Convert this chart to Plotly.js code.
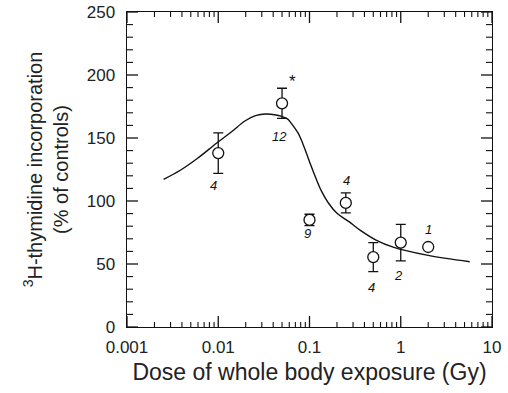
<!DOCTYPE html>
<html>
<head>
<meta charset="utf-8">
<script src="https://cdn.plot.ly/plotly-3.0.1.min.js"></script>
<style>html,body{margin:0;padding:0;background:#fff;}#chart{width:508px;height:393px;}</style>
</head>
<body>
<div id="chart"></div>
<script>
// Measured points (dose in Gy, % of controls)
var doses = [0.01, 0.05, 0.1, 0.25, 0.5, 1, 2];
var means = [138, 177.5, 85, 98.5, 55.5, 67, 63.5];
var errors = [16, 12, 4.5, 8, 11.5, 14.5, 0];

// Fitted curve
var curveX = [0.00252, 0.00388, 0.00594, 0.00955, 0.0140, 0.0198, 0.0256, 0.0331, 0.0428, 0.0487, 0.0578, 0.0629, 0.0748, 0.0814, 0.0926, 0.1052, 0.1197, 0.1362, 0.1618, 0.2002, 0.2704, 0.3646, 0.536, 0.826, 1.94, 5.7];
var curveY = [117.2, 124.6, 133.9, 145.8, 155, 163.7, 167.7, 169, 168.3, 167.3, 165, 161.8, 154, 148.4, 137.8, 127, 116.7, 107.4, 98.2, 90.2, 83.6, 76.5, 69, 63.4, 57, 51.8];

// Number-of-animals labels and their positions
var labelText = ['4', '12', '*', '9', '4', '4', '2', '1'];
var labelX = [0.0088, 0.0465, 0.0646, 0.094, 0.254, 0.483, 0.955, 2.03];
var labelY = [112.5, 151, 195, 74, 116.5, 31.5, 41, 77];

// Axis ticks
var tickVals = [0.001, 0.01, 0.1, 1, 10];
var tickText = ['0.001', '0.01', '0.1', '1', '10'];
var minorDigits = [2, 3, 4, 5, 6, 7, 8, 9];
var yTickVals = [0, 50, 100, 150, 200, 250];
var yMinorStep = 10;

var FONT = 'Liberation Sans, Arial, Helvetica, sans-serif';
var INK = '#111';

var W = 508, H = 393, M = {l: 127, r: 16, t: 12, b: 66};
var X_RANGE = [-3, 1], Y_RANGE = [0, 250];
// data units per pixel, so tick lengths can be given in pixels
var yPerPx = (Y_RANGE[1] - Y_RANGE[0]) / (H - M.t - M.b);
var decPerPx = (X_RANGE[1] - X_RANGE[0]) / (W - M.l - M.r);

// Inward tick marks on all four sides, built from the tick arrays
function tickTrace(len, w) { return {tx: [], ty: [], len: len, w: w}; }
var major = tickTrace(11, 1.3), minor = tickTrace(5, 1.1);
function addX(t, v) {
  var d = t.len * yPerPx;
  t.tx.push(v, v, null, v, v, null);
  t.ty.push(Y_RANGE[0], Y_RANGE[0] + d, null, Y_RANGE[1], Y_RANGE[1] - d, null);
}
function addY(t, v, len) {
  var f = Math.pow(10, (len || t.len) * decPerPx);
  var x0 = Math.pow(10, X_RANGE[0]), x1 = Math.pow(10, X_RANGE[1]);
  t.tx.push(x0, x0 * f, null, x1, x1 / f, null);
  t.ty.push(v, v, null, v, v, null);
}
tickVals.forEach(function (v, i) {
  addX(major, v);
  if (i < tickVals.length - 1) minorDigits.forEach(function (d) { addX(minor, v * d); });
});
yTickVals.forEach(function (v) { addY(major, v); });
for (var yv = Y_RANGE[0]; yv <= Y_RANGE[1]; yv += yMinorStep) {
  if (yTickVals.indexOf(yv) < 0) addY(minor, yv, 6);
}

var traces = [
  {
    x: curveX, y: curveY, type: 'scatter', mode: 'lines',
    line: {color: INK, width: 1.4, shape: 'spline', smoothing: 1},
    hoverinfo: 'skip'
  },
  {
    x: doses, y: means, type: 'scatter', mode: 'markers',
    marker: {symbol: 'circle', size: 11, color: '#fff', line: {color: INK, width: 1.3}},
    error_y: {type: 'data', array: errors, visible: true, color: INK, thickness: 1.3, width: 5}
  }
];
[major, minor].forEach(function (t) {
  traces.push({x: t.tx, y: t.ty, type: 'scatter', mode: 'lines', connectgaps: false,
    line: {color: INK, width: t.w}, hoverinfo: 'skip', cliponaxis: false});
});

var annotations = labelText.map(function (t, i) {
  return {
    x: Math.log10(labelX[i]), y: labelY[i], xref: 'x', yref: 'y',
    text: t === '*' ? t : '<i>' + t + '</i>', showarrow: false,
    font: {family: FONT, size: t === '*' ? 17 : 13, color: INK}
  };
});

var layout = {
  width: W, height: H,
  margin: M,
  paper_bgcolor: '#fff', plot_bgcolor: '#fff',
  showlegend: false,
  font: {family: FONT, color: INK},
  xaxis: {
    type: 'log', range: X_RANGE,
    tickmode: 'array', tickvals: tickVals, ticktext: tickText, ticks: '',
    ticklabelstandoff: 4,
    showline: true, linecolor: INK, linewidth: 1.4, mirror: true,
    showgrid: false, zeroline: false,
    tickfont: {size: 17, family: FONT, color: '#222'},
    title: {text: 'Dose of whole body exposure (Gy)', font: {size: 23, family: FONT, color: '#222'}, standoff: 8}
  },
  yaxis: {
    range: Y_RANGE, tickmode: 'array', tickvals: yTickVals, ticks: '',
    ticklabelstandoff: 7,
    showline: true, linecolor: INK, linewidth: 1.4, mirror: true,
    showgrid: false, zeroline: false,
    tickfont: {size: 17, family: FONT, color: '#222'},
    title: {text: '<sup>3</sup>H-thymidine incorporation<br>(% of controls)', font: {size: 20, family: FONT, color: '#222'}, standoff: 13}
  },
  annotations: annotations
};

Plotly.newPlot('chart', traces, layout, {displayModeBar: false, staticPlot: true});
</script>
</body>
</html>
